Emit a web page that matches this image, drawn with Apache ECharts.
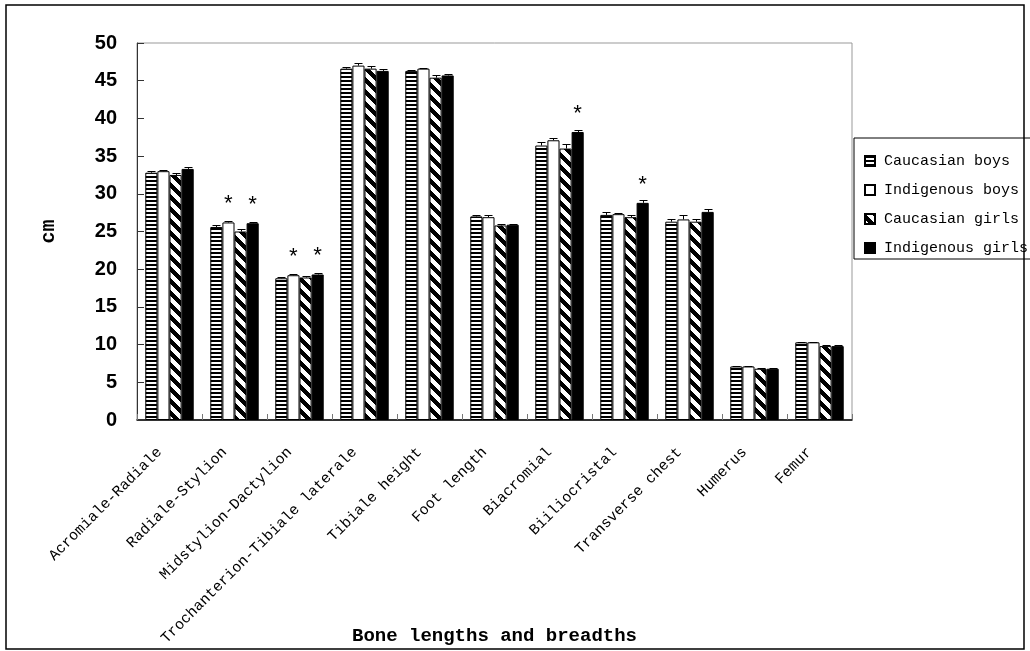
<!DOCTYPE html>
<html>
<head>
<meta charset="utf-8">
<script src="https://cdn.jsdelivr.net/npm/echarts@6/dist/echarts.min.js"></script>
<style>
  html, body { margin: 0; padding: 0; background: #fff; }
  #chart { width: 1030px; height: 651px; }
</style>
</head>
<body>
<div id="chart"></div>
<script>
// Bone lengths and breadths (cm), means with upper standard-error whiskers
const categories = [
  'Acromiale-Radiale', 'Radiale-Stylion', 'Midstylion-Dactylion',
  'Trochanterion-Tibiale laterale', 'Tibiale height', 'Foot length',
  'Biacromial', 'Biiliocristal', 'Transverse chest', 'Humerus', 'Femur'
];
const seriesNames = ['Caucasian boys', 'Indigenous boys', 'Caucasian girls', 'Indigenous girls'];

const caucasianBoys    = [32.8, 25.6, 18.8, 46.6, 46.3, 27.0, 36.4, 27.2, 26.3, 7.1, 10.3];
const indigenousBoys   = [33.0, 26.2, 19.2, 47.0, 46.6, 26.9, 37.1, 27.3, 26.6, 7.1, 10.3];
const caucasianGirls   = [32.5, 25.0, 18.9, 46.6, 45.4, 25.8, 36.0, 26.9, 26.3, 6.8, 9.8];
const indigenousGirls  = [33.3, 26.1, 19.3, 46.3, 45.7, 25.9, 38.2, 28.8, 27.6, 6.8, 9.8];

const errCaucasianBoys   = [0.2, 0.2, 0.1, 0.2, 0.15, 0.2, 0.45, 0.35, 0.35, 0.1, 0.1];
const errIndigenousBoys  = [0.15, 0.2, 0.1, 0.4, 0.15, 0.3, 0.35, 0.1, 0.6, 0.1, 0.1];
const errCaucasianGirls  = [0.2, 0.3, 0.15, 0.3, 0.3, 0.15, 0.6, 0.35, 0.35, 0.1, 0.1];
const errIndigenousGirls = [0.2, 0.2, 0.15, 0.3, 0.15, 0.1, 0.2, 0.4, 0.35, 0.1, 0.1];

// categories marked with * (significant difference) for each group
const sigIndigenousBoys  = ['Radiale-Stylion', 'Midstylion-Dactylion'];
const sigIndigenousGirls = ['Radiale-Stylion', 'Midstylion-Dactylion', 'Biacromial', 'Biiliocristal'];

const yTicks = { min: 0, max: 50, step: 5 };

const values = [caucasianBoys, indigenousBoys, caucasianGirls, indigenousGirls];
const errors = [errCaucasianBoys, errIndigenousBoys, errCaucasianGirls, errIndigenousGirls];
const marks  = [[], sigIndigenousBoys, [], sigIndigenousGirls];

const CAT_GAP = 0.255;
const MONO = '"Liberation Mono", "DejaVu Sans Mono", monospace';

// fill patterns: horizontal stripes, plain white, diagonal hatching, solid black
function makeTile(kind) {
  const c = document.createElement('canvas');
  if (kind === 'h') {
    c.width = 4; c.height = 4;
    const g = c.getContext('2d');
    g.fillStyle = '#fff'; g.fillRect(0, 0, 4, 4);
    g.fillStyle = '#000'; g.fillRect(0, 0, 4, 2);
  } else {
    const s = 12;
    c.width = s; c.height = s;
    const g = c.getContext('2d');
    const img = g.createImageData(s, s);
    for (let y = 0; y < s; y++) {
      for (let x = 0; x < s; x++) {
        const k = ((y - x) % s + s) % s;
        const v = k < s / 2 ? 0 : 255;
        const i = (y * s + x) * 4;
        img.data[i] = v; img.data[i + 1] = v; img.data[i + 2] = v; img.data[i + 3] = 255;
      }
    }
    g.putImageData(img, 0, 0);
  }
  return { image: c, repeat: 'repeat' };
}
const fills = [makeTile('h'), '#fff', makeTile('d'), '#000'];

const barSeries = values.map((vals, si) => ({
  type: 'bar',
  name: seriesNames[si],
  barGap: '0%',
  barCategoryGap: (CAT_GAP * 100) + '%',
  itemStyle: { color: fills[si], borderColor: '#000', borderWidth: 1 },
  emphasis: { disabled: true },
  label: {
    show: false, position: 'top', distance: 6, formatter: '*',
    fontFamily: MONO, fontSize: 22, color: '#000'
  },
  z: 2,
  data: vals.map((v, i) => marks[si].includes(categories[i])
    ? { value: v, label: { show: true } } : v)
}));

const errorSeries = values.map((vals, si) => ({
  type: 'custom',
  silent: true,
  z: 3,
  renderItem(params, api) {
    const ci = api.value(0), v = api.value(1), e = api.value(2);
    const base = api.coord([ci, v]);
    const top = api.coord([ci, v + e]);
    const band = api.size([1, 0])[0];
    const bw = band * (1 - CAT_GAP) / 4;
    const x = Math.round(base[0] + (si - 1.5) * bw) + 0.5;
    const yt = Math.round(top[1]) + 0.5;
    const cap = 4;
    return {
      type: 'group',
      children: [
        { type: 'line', shape: { x1: x, y1: base[1], x2: x, y2: yt }, style: { stroke: '#000', lineWidth: 1 } },
        { type: 'line', shape: { x1: x - cap, y1: yt, x2: x + cap, y2: yt }, style: { stroke: '#000', lineWidth: 1 } }
      ]
    };
  },
  data: vals.map((v, i) => [i, v, errors[si][i]])
}));

const chart = echarts.init(document.getElementById('chart'), null, { renderer: 'canvas' });
chart.setOption({
  animation: false,
  backgroundColor: '#fff',
  grid: {
    left: 137, right: 178, top: 43, bottom: 231,
    outerBoundsMode: 'none',
    containLabel: false,
    show: true, borderColor: '#999', borderWidth: 1, backgroundColor: 'transparent'
  },
  legend: {
    orient: 'vertical', left: 854, top: 138,
    itemWidth: 10, itemHeight: 10, itemGap: 11, icon: 'rect',
    padding: [14, 6, 2, 10],
    borderColor: '#000', borderWidth: 1,
    selectedMode: false,
    textStyle: { fontFamily: MONO, fontSize: 15, color: '#000', lineHeight: 18, padding: [0, 0, 0, 4] },
    data: seriesNames
  },
  xAxis: {
    type: 'category',
    data: categories,
    name: 'Bone lengths and breadths',
    nameLocation: 'middle',
    nameGap: 207,
    nameMoveOverlap: false,
    nameTextStyle: { fontFamily: MONO, fontWeight: 'bold', fontSize: 19, color: '#000' },
    axisLine: { show: true, lineStyle: { color: '#000', width: 1.5 } },
    axisTick: { show: true, inside: true, length: 6, alignWithLabel: false, lineStyle: { color: '#777' } },
    axisLabel: {
      rotate: 45, margin: 20, interval: 0, padding: [0, 14, 0, 0],
      fontFamily: MONO, fontSize: 15, color: '#000'
    },
    splitLine: { show: false }
  },
  yAxis: {
    type: 'value',
    min: yTicks.min, max: yTicks.max, interval: yTicks.step,
    name: 'cm',
    nameLocation: 'middle',
    nameGap: 78,
    nameRotate: 90,
    nameMoveOverlap: false,
    nameTextStyle: { fontFamily: MONO, fontWeight: 'bold', fontSize: 20, color: '#000' },
    axisLine: { show: true, lineStyle: { color: '#333', width: 1 } },
    axisTick: { show: true, inside: true, length: 7, lineStyle: { color: '#333' } },
    axisLabel: {
      margin: 20, color: '#000', fontWeight: 'bold', fontSize: 20,
      fontFamily: '"Liberation Sans Narrow", "Liberation Sans", Arial, sans-serif'
    },
    splitLine: { show: false }
  },
  graphic: [{
    type: 'rect', silent: true, z: 100,
    shape: { x: 6, y: 5, width: 1018, height: 644 },
    style: { fill: 'none', stroke: '#000', lineWidth: 1.5 }
  }],
  series: [...barSeries, ...errorSeries]
});
</script>
</body>
</html>
